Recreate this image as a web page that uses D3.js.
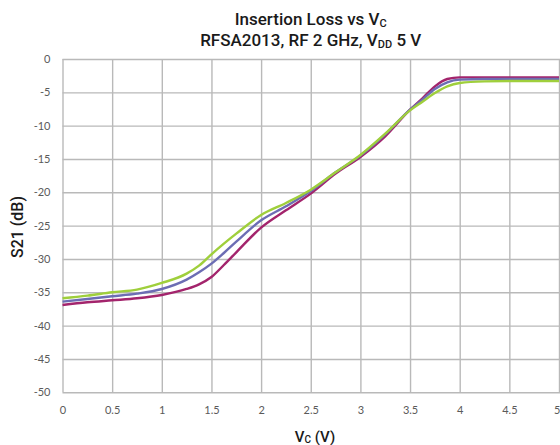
<!DOCTYPE html>
<html>
<head>
<meta charset="utf-8">
<script src="https://cdn.jsdelivr.net/npm/d3@7/dist/d3.min.js"></script>
<style>
  html, body { margin: 0; padding: 0; background: #fff; }
  svg { display: block; }
</style>
</head>
<body>
<svg id="chart" width="560" height="445"></svg>
<script>
// Control voltage sweep (V)
const vc = [0, 0.25, 0.5, 0.75, 1.0, 1.25, 1.375, 1.5, 1.625, 1.75, 2.0, 2.25, 2.5, 2.75, 3.0, 3.25, 3.5, 3.625, 3.75, 3.875, 4.0, 4.25, 4.5, 4.75, 5.0];

// S21 (dB) for three parts
const s21Green   = [-35.9, -35.5, -35.0, -34.6, -33.6, -32.2, -31.0, -29.3, -27.7, -26.2, -23.4, -21.6, -19.6, -17.0, -14.4, -11.2, -7.7, -6.4, -5.1, -4.1, -3.6, -3.35, -3.3, -3.3, -3.3];
const s21Blue    = [-36.4, -36.0, -35.6, -35.2, -34.5, -33.1, -32.0, -30.7, -29.1, -27.4, -24.2, -22.1, -19.8, -17.0, -14.5, -11.3, -7.6, -6.1, -4.5, -3.5, -3.1, -3.0, -3.0, -3.0, -3.0];
const s21Magenta = [-36.9, -36.5, -36.2, -35.9, -35.4, -34.5, -33.8, -32.7, -30.9, -29.0, -25.3, -22.7, -20.2, -17.2, -14.7, -11.6, -7.6, -5.9, -4.1, -3.0, -2.75, -2.75, -2.75, -2.75, -2.75];

const xTicks = [0, 0.5, 1, 1.5, 2, 2.5, 3, 3.5, 4, 4.5, 5];
const yTicks = [0, -5, -10, -15, -20, -25, -30, -35, -40, -45, -50];

const series = [
  { name: "magenta", values: s21Magenta, color: "#a3246c" },
  { name: "blue",    values: s21Blue,    color: "#6c6db4" },
  { name: "green",   values: s21Green,   color: "#9fcf3c" }
];

const svg = d3.select("#chart");
const plotLeft = 62.5, plotRight = 559, plotTop = 59, plotBottom = 392.3;

const x = d3.scaleLinear().domain([0, 5]).range([plotLeft, plotRight]);
const y = d3.scaleLinear().domain([-50, 0]).range([plotBottom, plotTop]);

const gridColor = "#b9b9b9";
const tickColor = "#5a5a5a";

// Horizontal grid
svg.append("g")
  .attr("transform", `translate(${plotLeft},0)`)
  .call(d3.axisLeft(y).tickValues(yTicks).tickSize(-(560 - plotLeft)).tickFormat(""))
  .call(g => g.select(".domain").remove())
  .call(g => g.selectAll("line").attr("stroke", gridColor).attr("stroke-width", 1.4));

// Vertical grid
svg.append("g")
  .attr("transform", `translate(0,${plotBottom})`)
  .call(d3.axisBottom(x).tickValues(xTicks).tickSize(-(plotBottom - plotTop)).tickFormat(""))
  .call(g => g.select(".domain").remove())
  .call(g => g.selectAll("line").attr("stroke", gridColor).attr("stroke-width", 1.4));

// Y tick labels
svg.append("g")
  .attr("transform", `translate(${plotLeft},0)`)
  .call(d3.axisLeft(y).tickValues(yTicks).tickSize(0).tickPadding(12))
  .call(g => g.select(".domain").remove())
  .call(g => g.selectAll("text")
    .attr("fill", tickColor)
    .style("font-family", "Lato, 'Open Sans', sans-serif")
    .style("font-size", "11px")
    .text(d => d === 0 ? "0" : "-" + Math.abs(d)));

// X tick labels (the last one sits at the right edge, so it is right-aligned)
svg.append("g")
  .attr("transform", `translate(0,${plotBottom})`)
  .call(d3.axisBottom(x).tickValues(xTicks).tickSize(0).tickPadding(14).tickFormat(d3.format("")))
  .call(g => g.select(".domain").remove())
  .call(g => g.selectAll("text")
    .attr("fill", tickColor)
    .style("font-family", "Lato, 'Open Sans', sans-serif")
    .style("font-size", "11px"))
  .call(g => g.selectAll(".tick")
    .filter(d => d === 5)
    .select("text")
    .attr("text-anchor", "end")
    .attr("x", 560 - x(5)));

// Curves
const line = d3.line()
  .x((d, i) => x(vc[i]))
  .y(d => y(d))
  .curve(d3.curveMonotoneX);

svg.append("g")
  .selectAll("path")
  .data(series)
  .join("path")
  .attr("d", d => line(d.values))
  .attr("fill", "none")
  .attr("stroke", d => d.color)
  .attr("stroke-width", 2.4)
  .attr("stroke-linejoin", "round");

// Titles
const titleFont = "Roboto, 'Liberation Sans', sans-serif";
const cx = (plotLeft + plotRight) / 2;

const t1 = svg.append("text")
  .attr("x", cx).attr("y", 25)
  .attr("text-anchor", "middle")
  .style("font-family", titleFont).style("font-weight", 500).style("font-size", "17px")
  .attr("fill", "#1a1a1a");
t1.append("tspan").text("Insertion Loss vs V");
t1.append("tspan").attr("font-size", "11px").attr("dy", 2).text("C");

const t2 = svg.append("text")
  .attr("x", cx).attr("y", 46)
  .attr("text-anchor", "middle")
  .style("font-family", titleFont).style("font-weight", 500).style("font-size", "17px")
  .attr("fill", "#1a1a1a");
t2.append("tspan").text("RFSA2013, RF 2 GHz, V");
t2.append("tspan").attr("font-size", "11px").attr("dy", 2).text("DD");
t2.append("tspan").attr("dy", -2).text(" 5 V");

// Axis titles
const xt = svg.append("text")
  .attr("x", 315).attr("y", 442)
  .attr("text-anchor", "middle")
  .style("font-family", titleFont).style("font-weight", 500).style("font-size", "15px")
  .attr("fill", "#1a1a1a");
xt.append("tspan").text("V");
xt.append("tspan").attr("font-size", "10px").attr("dy", 1).text("C");
xt.append("tspan").attr("dy", -1).text(" (V)");

svg.append("text")
  .attr("transform", "translate(23,227) rotate(-90)")
  .attr("text-anchor", "middle")
  .style("font-family", titleFont).style("font-weight", 500).style("font-size", "16px")
  .attr("fill", "#1a1a1a")
  .text("S21 (dB)");
</script>
</body>
</html>
